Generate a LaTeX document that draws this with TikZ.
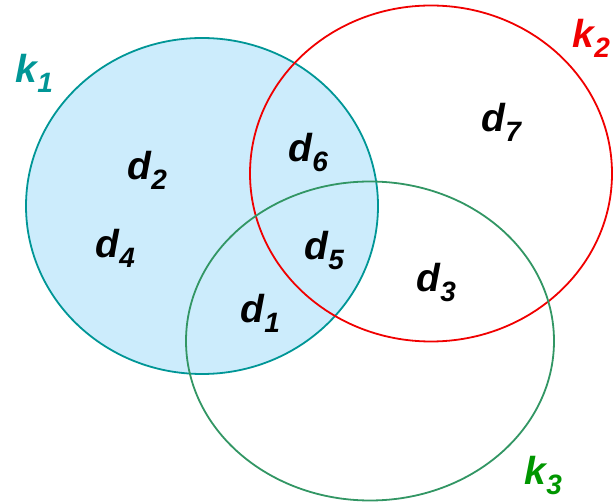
\documentclass[tikz,border=0pt]{standalone}
\usepackage{fontspec}
\setmainfont{Liberation Sans}
\definecolor{kone}{RGB}{0,150,150}
\definecolor{konefill}{RGB}{204,236,252}
\definecolor{ktwo}{RGB}{240,0,0}
\definecolor{kthree}{RGB}{50,150,100}
\definecolor{kthreetext}{RGB}{0,150,0}
\newcommand\lbl[2]{\fontsize{39}{39}\selectfont\bfseries\itshape #1\kern0.5pt\raisebox{-10pt}{\fontsize{28}{28}\selectfont #2}}
\tikzset{
  setline/.style={line width=1.8pt},
  elt/.style={inner sep=0pt, text=black},
}
\begin{document}
\begin{tikzpicture}[x=1pt,y=-1pt]
\useasboundingbox (0,0) rectangle (613,502);
\fill[konefill] (202,206) ellipse [x radius=176, y radius=168];
\draw[setline, kone] (202,206) ellipse [x radius=176, y radius=168];
\draw[setline, ktwo] (431,173.5) ellipse [x radius=181, y radius=168];
\draw[setline, kthree] (370,341) ellipse [x radius=184, y radius=159.5];
\node[elt, text=kone] (k1) at (34,73) {\lbl{k}{1}};
\node[elt, text=ktwo] (k2) at (591,38) {\lbl{k}{2}};
\node[elt, text=kthreetext] (k3) at (543,476) {\lbl{k}{3}};
\node[elt] (d2) at (147,170) {\lbl{d}{2}};
\node[elt] (d4) at (115,248) {\lbl{d}{4}};
\node[elt] (d6) at (308,153) {\lbl{d}{6}};
\node[elt] (d5) at (324,251) {\lbl{d}{5}};
\node[elt] (d1) at (260,313) {\lbl{d}{1}};
\node[elt] (d3) at (436,283) {\lbl{d}{3}};
\node[elt] (d7) at (501,122) {\lbl{d}{7}};
\end{tikzpicture}
\end{document}
